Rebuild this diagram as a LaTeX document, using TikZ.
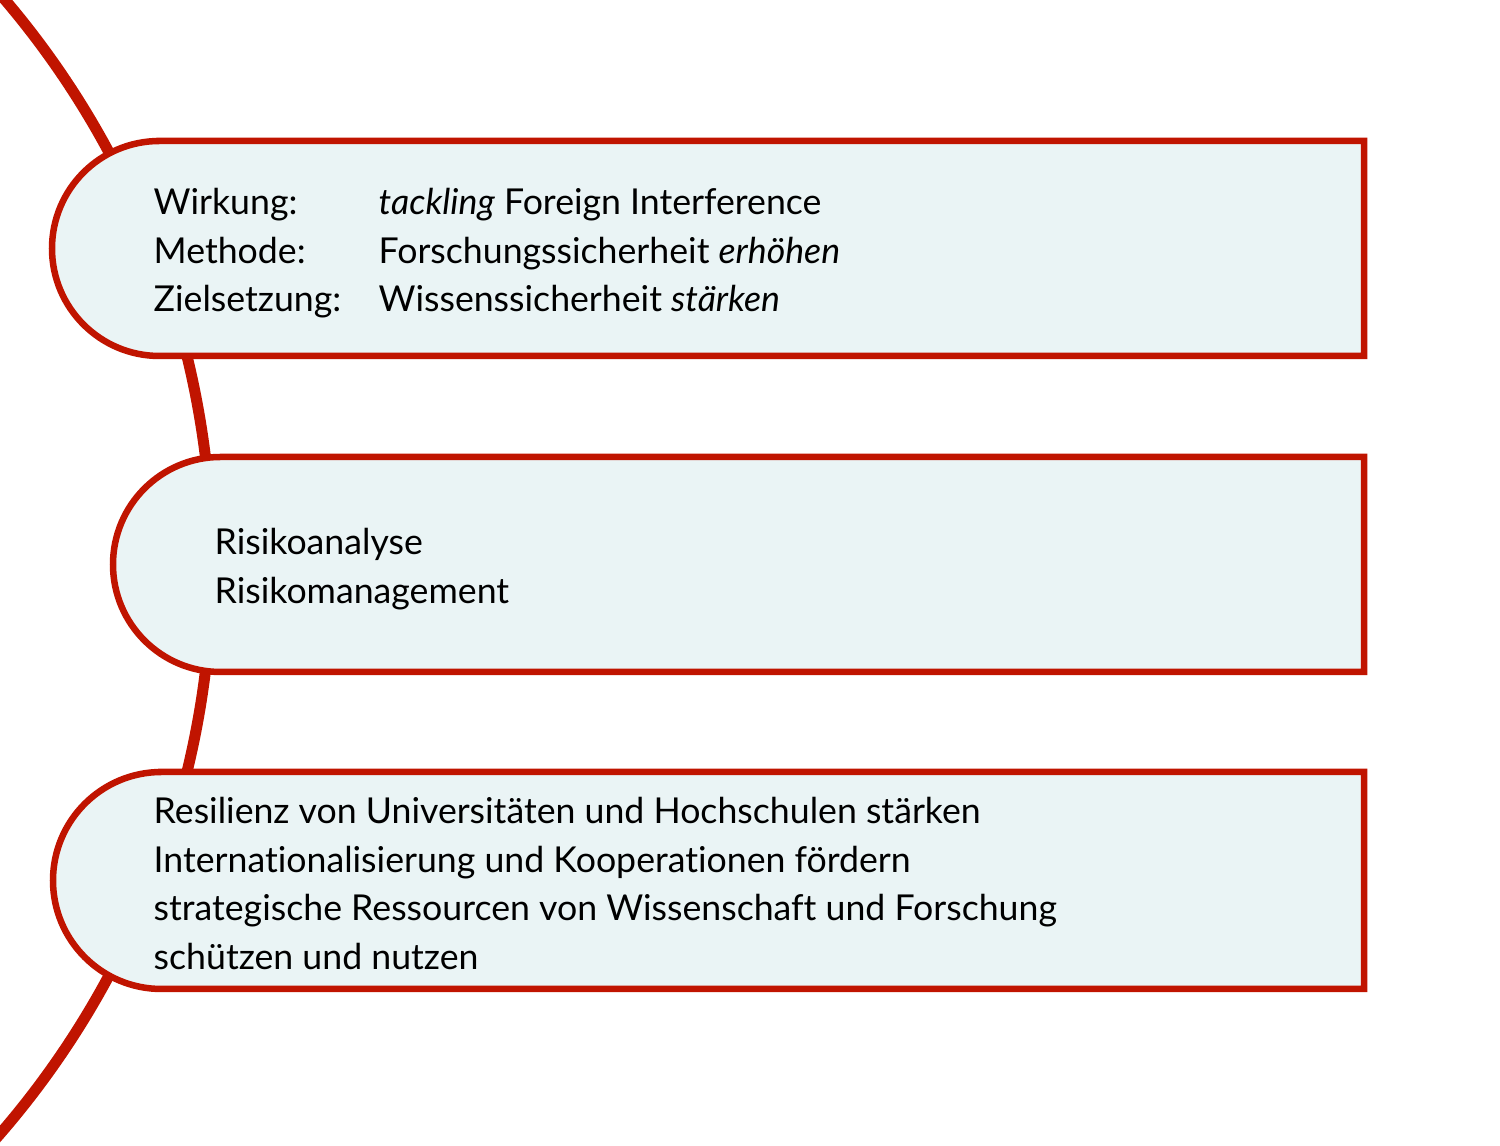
\documentclass[tikz,border=0pt]{standalone}
\usepackage{fontspec}
\setmainfont{Lato}[Ligatures=NoCommon]
\definecolor{framered}{RGB}{192,20,0}
\definecolor{tilefill}{RGB}{234,244,245}
\tikzset{
    tile/.style={
        draw=framered,
        fill=tilefill,
        line width=0.065cm
    },
    arcline/.style={
        draw=framered,
        line width=0.11cm
    },
    txt/.style={
        anchor=base west,
        inner sep=0pt,
        font=\fontsize{10.15pt}{12pt}\selectfont
    }
}
\newcommand{\tile}[3]{% left x, top y, bottom y
    \pgfmathsetmacro{\tr}{(#2-#3)/2}
    \draw[tile] ({#1+\tr},#2) -- (13.64,#2) -- (13.64,#3) -- ({#1+\tr},#3)
        arc (270:90:\tr cm) -- cycle;
}
\begin{document}
\begin{tikzpicture}
\useasboundingbox (0,0) rectangle (15,11.46);

% big arc behind the tiles
\draw[arcline] (-6.60,5.82) ++(45:8.72) arc (45:-45:8.72cm);

% tiles
\tile{0.52}{10.05}{7.90}
\tile{1.13}{6.89}{4.74}
\tile{0.53}{3.74}{1.57}

% first tile
\node[txt] (wlab) at (1.53,9.31) {Wirkung:};
\node[txt] (mlab) at (1.53,8.825) {Methode:};
\node[txt] (zlab) at (1.53,8.34) {Zielsetzung:};
\node[txt] (wval) at (3.78,9.31) {\textit{tackling} Foreign Interference};
\node[txt] (mval) at (3.78,8.825) {Forschungssicherheit \textit{erhöhen}};
\node[txt] (zval) at (3.78,8.34) {Wissenssicherheit \textit{stärken}};

% second tile
\node[txt] (ranal) at (2.14,5.91) {Risikoanalyse};
\node[txt] (rmgmt) at (2.14,5.425) {Risikomanagement};

% third tile
\node[txt] (res) at (1.53,3.22) {Resilienz von Universitäten und Hochschulen stärken};
\node[txt] (intl) at (1.53,2.735) {Internationalisierung und Kooperationen fördern};
\node[txt] (strat) at (1.53,2.25) {strategische Ressourcen von Wissenschaft und Forschung};
\node[txt] (prot) at (1.53,1.765) {schützen und nutzen};

\end{tikzpicture}
\end{document}
